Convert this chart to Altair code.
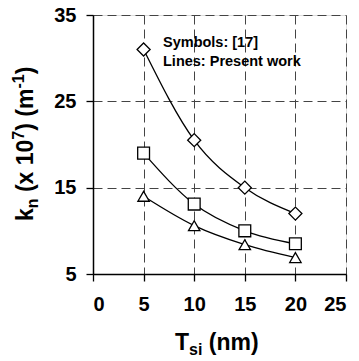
import altair as alt
import pandas as pd

tsi = [5, 10, 15, 20]
diamond_vals = [31.0, 20.5, 15.0, 12.0]
square_vals = [19.0, 13.1, 10.0, 8.5]
triangle_vals = [14.0, 10.6, 8.4, 6.9]

x_ticks = [0, 5, 10, 15, 20, 25]
y_ticks = [5, 15, 25, 35]

series = {"diamond": diamond_vals, "square": square_vals, "triangle-up": triangle_vals}
sizes = {"diamond": 170, "square": 140, "triangle-up": 130}
rows = []
for name, vals in series.items():
    for t, v in zip(tsi, vals):
        rows.append({"tsi": t, "kn": v, "series": name, "sz": sizes[name]})
df = pd.DataFrame(rows)

FONT = "Liberation Sans"
W, H = 253, 259

xs = alt.Scale(domain=[0, 25], nice=False)
ys = alt.Scale(domain=[5, 35], nice=False)

common = dict(title=None, grid=True, gridDash=[9, 5], gridColor="#444444",
              gridWidth=1, tickSize=7, tickColor="black", tickWidth=1.3, domainColor="black",
              domainWidth=1.5, labelFont=FONT, labelFontSize=20, labelFontWeight="bold",
              labelColor="black")
x_axis = alt.Axis(values=x_ticks, labelPadding=13, **common)
y_axis = alt.Axis(values=y_ticks, labelPadding=10, **common)

base = alt.Chart(df)

lines = base.mark_line(color="black", strokeWidth=1.3, interpolate="monotone").encode(
    x=alt.X("tsi:Q", scale=xs, axis=x_axis),
    y=alt.Y("kn:Q", scale=ys, axis=y_axis),
    detail="series:N",
)

points = base.mark_point(filled=True, fill="white", stroke="black", strokeWidth=1.3, opacity=1).encode(
    x=alt.X("tsi:Q", scale=xs),
    y=alt.Y("kn:Q", scale=ys),
    shape=alt.Shape("series:N", scale=alt.Scale(domain=list(series.keys()), range=list(series.keys())), legend=None),
    size=alt.Size("sz:Q", scale=None, legend=None),
)

def txt(s, x, y, size, angle=0):
    return alt.Chart(pd.DataFrame({"t": [s]})).mark_text(
        font=FONT, fontWeight="bold", fontSize=size, color="black", align="left",
        baseline="alphabetic", angle=angle
    ).encode(text="t:N", x=alt.value(x), y=alt.value(y))

F, f = 23, 16
SP = 0.278
layers = [lines, points]
# legend annotation
layers.append(txt("Symbols: [17]", 70, 31.7, 14.5))
layers.append(txt("Lines: Present work", 70, 51, 14.5))

# x title: T_si (nm)
x0, yb = 82, 335
layers.append(txt("T", x0, yb, F))
x1 = x0 + 0.611 * F
layers.append(txt("si", x1, yb + 5, f))
x2 = x1 + (0.556 + 0.278) * f + SP * F
layers.append(txt("(nm)", x2, yb, F))

# y title rotated: k_n (x 10^7) (m^-1)
bx = 33.3 - 93
pieces = [("k", F, 0, 0.556), ("n", f, 4.5, 0.611 + SP * F / f), ("(x 10", F, 0, 2.279),
          ("7", f, -9.5, 0.556), (") (m", F, 0, 1.833), ("-1", f, -9.5, 0.889), (")", F, 0, 0.333)]
yy = 206.0
for s, sz, off, w in pieces:
    layers.append(txt(s, bx + off, yy, sz, angle=270))
    yy -= w * sz

chart = alt.layer(*layers).properties(
    width=W, height=H,
    autosize=alt.AutoSizeParams(type="none"),
    padding={"left": 93, "top": 15, "right": 13, "bottom": 87},
).configure_view(stroke="black", strokeWidth=1.5).configure(background="white")

chart.save("out.html", embed_options={"renderer": "svg", "actions": False})
